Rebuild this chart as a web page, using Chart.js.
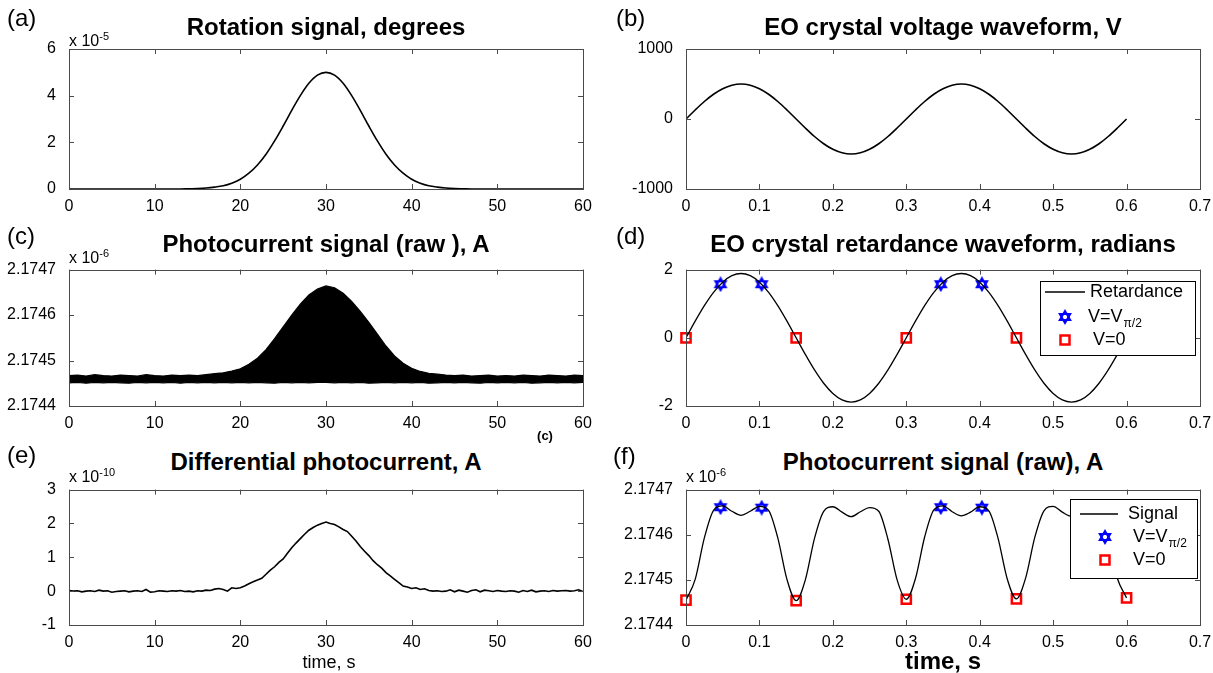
<!DOCTYPE html>
<html>
<head>
<meta charset="utf-8">
<script src="https://cdn.jsdelivr.net/npm/chart.js@4.4.1/dist/chart.umd.min.js"></script>
<style>
  body { margin: 0; background: #fff; width: 1213px; height: 673px; position: relative; overflow: hidden;
         font-family: 'Liberation Sans', Arial, sans-serif; color: #000; }
  canvas { position: absolute; }
  .lbl { position: absolute; white-space: nowrap; line-height: 1; }
  .tag { font-size: 24px; transform: translateY(-50%); }
  .title { font-size: 24px; font-weight: bold; transform: translate(-50%, -50%); }
  .exp { font-size: 16px; transform: translateY(-50%); }
  .exp sup { font-size: 11px; vertical-align: 6px; }
  .xlab { font-size: 18px; transform: translate(-50%, -50%); }
</style>
</head>
<body>
<canvas id="pa"></canvas>
<canvas id="pb"></canvas>
<canvas id="pc"></canvas>
<canvas id="pd"></canvas>
<canvas id="pe"></canvas>
<canvas id="pf"></canvas>

<div class="lbl tag" style="left:7px;top:18px">(a)</div>
<div class="lbl tag" style="left:616px;top:18px">(b)</div>
<div class="lbl tag" style="left:7px;top:236px">(c)</div>
<div class="lbl tag" style="left:616px;top:236px">(d)</div>
<div class="lbl tag" style="left:7px;top:455px">(e)</div>
<div class="lbl tag" style="left:613px;top:456px">(f)</div>

<div class="lbl title" style="left:326px;top:27px">Rotation signal, degrees</div>
<div class="lbl title" style="left:943px;top:27px">EO crystal voltage waveform, V</div>
<div class="lbl title" style="left:326px;top:244px">Photocurrent signal (raw ), A</div>
<div class="lbl title" style="left:943px;top:244px">EO crystal retardance waveform, radians</div>
<div class="lbl title" style="left:326px;top:462px">Differential photocurrent, A</div>
<div class="lbl title" style="left:943px;top:462px">Photocurrent signal (raw), A</div>

<div class="lbl exp" style="left:69px;top:40px">x 10<sup>-5</sup></div>
<div class="lbl exp" style="left:69px;top:257px">x 10<sup>-6</sup></div>
<div class="lbl exp" style="left:69px;top:476px">x 10<sup>-10</sup></div>
<div class="lbl exp" style="left:686px;top:476px">x 10<sup>-6</sup></div>

<div class="lbl" style="left:545px;top:435px;font-size:13px;font-weight:bold;transform:translate(-50%,-50%)">(c)</div>
<div class="lbl xlab" style="left:329px;top:662px">time, s</div>
<div class="lbl xlab" style="left:943px;top:661px;font-size:24px;font-weight:bold">time, s</div>

<script>
// ---- tick values ----
const longTicks = [0, 10, 20, 30, 40, 50, 60];
const shortTicks = [0, 0.1, 0.2, 0.3, 0.4, 0.5, 0.6, 0.7];
const rotTicks = [0, 2, 4, 6];
const voltTicks = [-1000, 0, 1000];
const photoTicks = [2.1744, 2.1745, 2.1746, 2.1747];
const retTicks = [-2, 0, 2];
const diffTicks = [-1, 0, 1, 2, 3];

// ---- (a) rotation signal, x1e-5 deg ----
const rotT = [0, 10, 13, 14, 15, 16, 17, 18, 19, 20, 21, 22, 23, 24, 25, 26, 27, 28, 29, 30,
  31, 32, 33, 34, 35, 36, 37, 38, 39, 40, 41, 42, 43, 44, 45, 46, 47, 50, 60];
const rotVal = [0, 0, 0, 0.01, 0.02, 0.04, 0.08, 0.14, 0.25, 0.42, 0.68, 1.03, 1.49, 2.06, 2.70, 3.37, 4.00, 4.53, 4.88, 5.00,
  4.88, 4.53, 4.00, 3.37, 2.70, 2.06, 1.49, 1.03, 0.68, 0.42, 0.25, 0.14, 0.08, 0.04, 0.02, 0.01, 0, 0, 0];

// ---- shared time base for the 0..0.6 s waveforms ----
const waveT = [0, 0.0125, 0.025, 0.0375, 0.05, 0.0625, 0.075, 0.0875, 0.1, 0.1125, 0.125, 0.1375,
  0.15, 0.1625, 0.175, 0.1875, 0.2, 0.2125, 0.225, 0.2375, 0.25, 0.2625, 0.275, 0.2875,
  0.3, 0.3125, 0.325, 0.3375, 0.35, 0.3625, 0.375, 0.3875, 0.4, 0.4125, 0.425, 0.4375,
  0.45, 0.4625, 0.475, 0.4875, 0.5, 0.5125, 0.525, 0.5375, 0.55, 0.5625, 0.575, 0.5875, 0.6];

// (b) EO crystal voltage, V
const voltVal = [0, 129, 250, 354, 433, 483, 500, 483, 433, 354, 250, 129,
  0, -129, -250, -354, -433, -483, -500, -483, -433, -354, -250, -129,
  0, 129, 250, 354, 433, 483, 500, 483, 433, 354, 250, 129,
  0, -129, -250, -354, -433, -483, -500, -483, -433, -354, -250, -129, 0];

// (d) retardance, rad
const retVal = [0, 0.488, 0.943, 1.333, 1.632, 1.821, 1.885, 1.821, 1.632, 1.333, 0.943, 0.488,
  0, -0.488, -0.943, -1.333, -1.632, -1.821, -1.885, -1.821, -1.632, -1.333, -0.943, -0.488,
  0, 0.488, 0.943, 1.333, 1.632, 1.821, 1.885, 1.821, 1.632, 1.333, 0.943, 0.488,
  0, -0.488, -0.943, -1.333, -1.632, -1.821, -1.885, -1.821, -1.632, -1.333, -0.943, -0.488, 0];

// (f) raw photocurrent over the modulation, x1e-6 A
const photoVal = [2.174455, 2.174501, 2.174593, 2.174654, 2.174664, 2.174652, 2.174643, 2.174652, 2.174663, 2.174654, 2.174593, 2.174501,
  2.174454, 2.174500, 2.174592, 2.174652, 2.174662, 2.174650, 2.174640, 2.174651, 2.174660, 2.174652, 2.174590, 2.174500,
  2.174457, 2.174503, 2.174595, 2.174655, 2.174664, 2.174651, 2.174642, 2.174650, 2.174662, 2.174653, 2.174592, 2.174502,
  2.174458, 2.174504, 2.174594, 2.174653, 2.174663, 2.174650, 2.174641, 2.174648, 2.174658, 2.174650, 2.174590, 2.174503, 2.174460];

// sample points: V = V_pi/2 and V = 0
const halfT = [0.047, 0.103, 0.347, 0.403];
const zeroT = [0, 0.15, 0.3, 0.45];
const retHalf = [1.571, 1.571, 1.571, 1.571];
const retZero = [0, 0, 0, 0];
const zeroT6 = [0, 0.15, 0.3, 0.45, 0.6];
const photoHalf = [2.174661, 2.174660, 2.174661, 2.174660];
const photoZero = [2.174455, 2.174454, 2.174457, 2.174458, 2.174460];

// ---- (c) raw photocurrent envelope over 60 s, x1e-6 A ----
const rawT = [0, 1, 2, 3, 4, 5, 6, 7, 8, 9, 10, 11, 12, 13, 14, 15, 16, 17, 18, 19, 20,
  21, 22, 23, 24, 25, 26, 27, 28, 29, 30, 31, 32, 33, 34, 35, 36, 37, 38, 39, 40,
  41, 42, 43, 44, 45, 46, 47, 48, 49, 50, 51, 52, 53, 54, 55, 56, 57, 58, 59, 60];
const rawHigh = [2.174467, 2.174468, 2.174466, 2.174469, 2.174467, 2.174466, 2.174468, 2.174467, 2.174466, 2.174469, 2.174467,
  2.174466, 2.174468, 2.174467, 2.174468, 2.174467, 2.174469, 2.174471, 2.174473, 2.174477, 2.174482,
  2.174492, 2.174505, 2.174524, 2.174548, 2.174574, 2.174600, 2.174624, 2.174644, 2.174657, 2.174664,
  2.174660, 2.174648, 2.174630, 2.174608, 2.174584, 2.174558, 2.174532, 2.174510, 2.174494, 2.174483,
  2.174476, 2.174472, 2.174470, 2.174468, 2.174467, 2.174468, 2.174466, 2.174467, 2.174468, 2.174466,
  2.174467, 2.174466, 2.174468, 2.174467, 2.174466, 2.174468, 2.174467, 2.174466, 2.174468, 2.174467];
const rawLow = [2.174451, 2.174452, 2.174450, 2.174452, 2.174451, 2.174452, 2.174451, 2.174450, 2.174452, 2.174451, 2.174452,
  2.174451, 2.174452, 2.174450, 2.174452, 2.174451, 2.174452, 2.174451, 2.174452, 2.174451, 2.174452,
  2.174451, 2.174452, 2.174451, 2.174450, 2.174452, 2.174451, 2.174452, 2.174451, 2.174452, 2.174452,
  2.174451, 2.174452, 2.174451, 2.174452, 2.174450, 2.174451, 2.174452, 2.174451, 2.174452, 2.174451,
  2.174452, 2.174450, 2.174451, 2.174452, 2.174451, 2.174452, 2.174451, 2.174450, 2.174452, 2.174451,
  2.174452, 2.174451, 2.174452, 2.174450, 2.174451, 2.174452, 2.174451, 2.174452, 2.174451, 2.174452];

// ---- (e) differential photocurrent, x1e-10 A ----
const diffT = [0, 0.5, 1, 1.5, 2, 2.5, 3, 3.5, 4, 4.5, 5, 5.5, 6, 6.5, 7, 7.5, 8, 8.5, 9, 9.5,
  10, 10.5, 11, 11.5, 12, 12.5, 13, 13.5, 14, 14.5, 15, 15.5, 16, 16.5, 17, 17.5, 18, 18.5, 19, 19.5,
  20, 20.5, 21, 21.5, 22, 22.5, 23, 23.5, 24, 24.5, 25, 25.5, 26, 26.5, 27, 27.5, 28, 28.5, 29, 29.5,
  30, 30.5, 31, 31.5, 32, 32.5, 33, 33.5, 34, 34.5, 35, 35.5, 36, 36.5, 37, 37.5, 38, 38.5, 39, 39.5,
  40, 40.5, 41, 41.5, 42, 42.5, 43, 43.5, 44, 44.5, 45, 45.5, 46, 46.5, 47, 47.5, 48, 48.5, 49, 49.5,
  50, 50.5, 51, 51.5, 52, 52.5, 53, 53.5, 54, 54.5, 55, 55.5, 56, 56.5, 57, 57.5, 58, 58.5, 59, 59.5, 60];
const diffVal = [0.02, 0.00, 0.01, -0.02, 0.00, 0.01, -0.01, 0.03, 0.00, 0.01, -0.03, -0.01, 0.00, 0.01, -0.02, 0.00, 0.01, -0.01, 0.05, -0.03,
  -0.02, 0.01, 0.00, -0.01, 0.01, 0.00, 0.02, -0.01, 0.00, -0.02, 0.01, 0.00, 0.03, 0.02, 0.06, 0.08, 0.05, 0.00, 0.10, 0.08,
  0.10, 0.15, 0.22, 0.28, 0.33, 0.38, 0.50, 0.62, 0.72, 0.85, 0.95, 1.12, 1.28, 1.42, 1.55, 1.68, 1.80, 1.88, 1.95, 2.00,
  2.04, 2.00, 1.97, 1.90, 1.82, 1.76, 1.62, 1.48, 1.32, 1.18, 1.05, 0.90, 0.78, 0.68, 0.55, 0.45, 0.35, 0.25, 0.15, 0.12,
  0.08, 0.10, 0.05, 0.07, 0.02, 0.00, 0.01, -0.01, 0.00, 0.04, -0.02, 0.03, 0.00, -0.03, 0.02, 0.04, -0.02, 0.03, 0.01, -0.01,
  0.02, 0.00, -0.01, 0.01, 0.00, -0.03, 0.02, -0.01, 0.03, -0.02, 0.00, 0.01, -0.01, 0.02, 0.00, 0.01, 0.02, 0.00, 0.01, 0.04, -0.01];

// ---------------------------------------------------------------
const tickFont = { family: "'Liberation Sans', Arial, sans-serif", size: 16 };
const X_AXIS_H = 28;
const pts = (xs, ys) => xs.map((x, i) => ({ x, y: ys[i] }));

function drawHexagram(g, x, y, r, color) {
  g.save();
  g.strokeStyle = color;
  g.lineWidth = 2;
  [-90, 90].forEach((a0) => {
    g.beginPath();
    for (let k = 0; k < 3; k++) {
      const a = (a0 + 120 * k) * Math.PI / 180;
      const px = x + r * Math.cos(a), py = y + r * Math.sin(a);
      if (k) g.lineTo(px, py); else g.moveTo(px, py);
    }
    g.closePath();
    g.stroke();
  });
  g.restore();
}

function drawSquare(g, x, y, side, color) {
  g.save();
  g.strokeStyle = color;
  g.lineWidth = 2.5;
  g.strokeRect(x - side / 2, y - side / 2, side, side);
  g.restore();
}

const hexImg = document.createElement('canvas');
hexImg.width = hexImg.height = 16;
drawHexagram(hexImg.getContext('2d'), 8, 8, 6, '#0000ff');

// axes box with inward ticks on all four sides
const matlabBox = {
  id: 'matlabBox',
  afterDatasetsDraw(chart) {
    const { ctx, chartArea: a, scales: { x, y } } = chart;
    ctx.save();
    ctx.strokeStyle = '#4a4a4a';
    ctx.lineWidth = 1;
    ctx.beginPath();
    x.ticks.forEach((t) => {
      const px = Math.round(x.getPixelForValue(t.value)) + 0.5;
      ctx.moveTo(px, a.bottom); ctx.lineTo(px, a.bottom - 5);
      ctx.moveTo(px, a.top); ctx.lineTo(px, a.top + 5);
    });
    y.ticks.forEach((t) => {
      const py = Math.round(y.getPixelForValue(t.value)) + 0.5;
      ctx.moveTo(a.left, py); ctx.lineTo(a.left + 5, py);
      ctx.moveTo(a.right, py); ctx.lineTo(a.right - 5, py);
    });
    ctx.stroke();
    ctx.strokeRect(Math.round(a.left) + 0.5, Math.round(a.top) + 0.5,
      Math.round(a.right - a.left), Math.round(a.bottom - a.top));
    ctx.restore();
  }
};

const legends = {
  pd: { right: 5, top: 11, width: 155, height: 74, rows: [
    { kind: 'line', y: 11, x0: 5, x1: 45, tx: 50, text: 'Retardance' },
    { kind: 'hex', y: 36, mx: 25, tx: 48, text: 'V=V', sub: 'π/2' },
    { kind: 'sq', y: 59, mx: 25, tx: 53, text: 'V=0' }
  ] },
  pf: { right: 3, top: 9, width: 127, height: 79, rows: [
    { kind: 'line', y: 15, x0: 10, x1: 48, tx: 58, text: 'Signal' },
    { kind: 'hex', y: 38, mx: 35, tx: 63, text: 'V=V', sub: 'π/2' },
    { kind: 'sq', y: 61, mx: 35, tx: 63, text: 'V=0' }
  ] }
};

const matlabLegend = {
  id: 'matlabLegend',
  afterDraw(chart) {
    const lg = legends[chart.canvas.id];
    if (!lg) return;
    const { ctx, chartArea: a } = chart;
    const x0 = Math.round(a.right - lg.right - lg.width), y0 = Math.round(a.top + lg.top);
    ctx.save();
    ctx.fillStyle = '#fff';
    ctx.fillRect(x0, y0, lg.width, lg.height);
    ctx.strokeStyle = '#000';
    ctx.lineWidth = 1;
    ctx.strokeRect(x0 + 0.5, y0 + 0.5, lg.width, lg.height);
    ctx.fillStyle = '#000';
    ctx.textBaseline = 'middle';
    lg.rows.forEach((r) => {
      const ry = y0 + r.y;
      if (r.kind === 'line') {
        ctx.strokeStyle = '#000';
        ctx.lineWidth = 1.5;
        ctx.beginPath(); ctx.moveTo(x0 + r.x0, ry); ctx.lineTo(x0 + r.x1, ry); ctx.stroke();
      } else if (r.kind === 'hex') {
        drawHexagram(ctx, x0 + r.mx, ry, 6, '#0000ff');
      } else {
        drawSquare(ctx, x0 + r.mx, ry, 9, '#ff0000');
      }
      ctx.font = "18px 'Liberation Sans', Arial, sans-serif";
      ctx.fillText(r.text, x0 + r.tx, ry);
      if (r.sub) {
        const w = ctx.measureText(r.text).width;
        ctx.font = "12px 'Liberation Sans', Arial, sans-serif";
        ctx.fillText(r.sub, x0 + r.tx + w + 1, ry + 7);
      }
    });
    ctx.restore();
  }
};

function lineSet(xs, ys, width) {
  return { data: pts(xs, ys), borderColor: '#000', borderWidth: width, pointRadius: 0,
    fill: false, cubicInterpolationMode: 'monotone' };
}
function hexSet(xs, ys) {
  return { data: pts(xs, ys), showLine: false, pointStyle: hexImg, pointRadius: 7, clip: false };
}
function squareSet(xs, ys) {
  return { data: pts(xs, ys), showLine: false, pointStyle: 'rect', pointRadius: 6.5,
    pointBorderColor: '#ff0000', pointBackgroundColor: 'rgba(0,0,0,0)', pointBorderWidth: 2.5, clip: false };
}

function makePanel(id, box, area, xTicks, yTicks, datasets) {
  const cv = document.getElementById(id);
  const [cx, cy, cw, ch] = box;
  const [L, T, R, B] = area;
  cv.width = cw; cv.height = ch;
  cv.style.left = cx + 'px'; cv.style.top = cy + 'px';
  const axis = (ticks, pad) => ({
    type: 'linear', min: ticks[0], max: ticks[ticks.length - 1],
    afterBuildTicks: (s) => { s.ticks = ticks.map((v) => ({ value: v })); },
    ticks: { callback: (v) => String(v), font: tickFont, color: '#000', padding: pad, maxRotation: 0, autoSkip: false },
    grid: { display: false }, border: { display: false }
  });
  const x = axis(xTicks, 0);
  x.afterFit = (s) => { s.height = X_AXIS_H; };
  const y = axis(yTicks, 5);
  y.afterFit = (s) => { s.width = L - cx; };
  return new Chart(cv, {
    type: 'line',
    data: { datasets },
    options: {
      responsive: false, animation: false, devicePixelRatio: 1,
      layout: { padding: { left: 0, top: T - cy, right: cx + cw - R, bottom: cy + ch - B - X_AXIS_H } },
      plugins: { legend: { display: false }, tooltip: { enabled: false } },
      scales: { x, y }
    },
    plugins: [matlabBox, matlabLegend]
  });
}

const LEFT = [0, 606], RIGHT = [606, 607];
const ROW1 = [30, 195], ROW2 = [255, 190], ROW3 = [475, 185];
const box = (col, row) => [col[0], row[0], col[1], row[1]];

makePanel('pa', box(LEFT, ROW1), [69, 49, 583, 189], longTicks, rotTicks,
  [lineSet(rotT, rotVal, 1.6)]);

makePanel('pb', box(RIGHT, ROW1), [686, 49, 1200, 189], shortTicks, voltTicks,
  [lineSet(waveT, voltVal, 1.6)]);

makePanel('pc', box(LEFT, ROW2), [69, 266, 583, 406], longTicks, photoTicks, [
  { data: pts(rawT, rawHigh), borderColor: '#000', borderWidth: 1.2, pointRadius: 0, tension: 0, fill: false },
  { data: pts(rawT, rawLow), borderColor: '#000', borderWidth: 1.2, pointRadius: 0, tension: 0,
    fill: '-1', backgroundColor: '#000' }
]);

makePanel('pd', box(RIGHT, ROW2), [686, 266, 1200, 406], shortTicks, retTicks, [
  lineSet(waveT, retVal, 1.3), hexSet(halfT, retHalf), squareSet(zeroT, retZero)
]);

makePanel('pe', box(LEFT, ROW3), [69, 485, 583, 625], longTicks, diffTicks, [
  { data: pts(diffT, diffVal), borderColor: '#000', borderWidth: 1.6, pointRadius: 0, tension: 0, fill: false }
]);

makePanel('pf', box(RIGHT, ROW3), [686, 485, 1200, 625], shortTicks, photoTicks, [
  lineSet(waveT, photoVal, 1.3), hexSet(halfT, photoHalf), squareSet(zeroT6, photoZero)
]);
</script>
</body>
</html>
